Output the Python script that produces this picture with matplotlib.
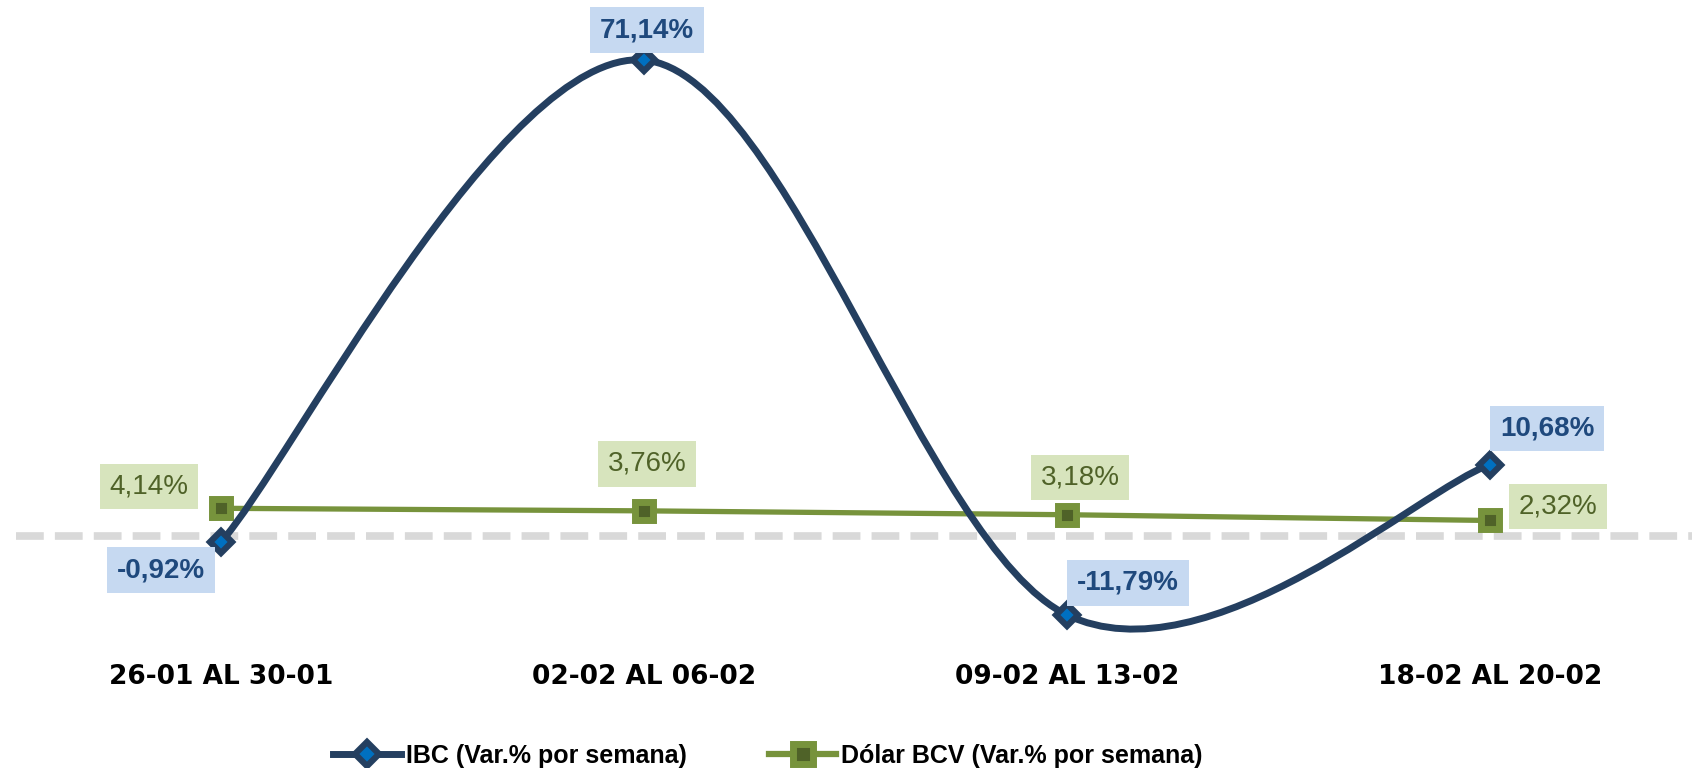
import numpy as np
import matplotlib
matplotlib.use('Agg')
import matplotlib.pyplot as plt
from matplotlib.path import Path
from matplotlib.patches import PathPatch
from matplotlib.lines import Line2D

plt.rcParams['font.family'] = ['Liberation Sans', 'DejaVu Sans']
plt.rcParams['lines.scale_dashes'] = False

# Datos
semanas = ['26-01 AL 30-01', '02-02 AL 06-02', '09-02 AL 13-02', '18-02 AL 20-02']
ibc = [-0.92, 71.14, -11.79, 10.68]
dolar = [4.14, 3.76, 3.18, 2.32]
ibc_labels = ['-0,92%', '71,14%', '-11,79%', '10,68%']
dolar_labels = ['4,14%', '3,76%', '3,18%', '2,32%']

c_ibc = '#243F60'
c_ibc_in = '#0070C0'
c_dol = '#77933C'
c_dol_in = '#4F6228'
c_txt_ibc = '#1F497D'
c_box_ibc = '#C6D9F1'
c_txt_dol = '#4F6228'
c_box_dol = '#D7E4BD'

W, H = 1692, 768
fig = plt.figure(figsize=(W / 100, H / 100), dpi=100)
ax = fig.add_axes([0, 128 / H, 1, 640 / H])

zero_px = 536
scale = 6.69
ax.set_xlim(-221 / 423, 3 + 202 / 423)
ax.set_ylim((zero_px - 640) / scale, zero_px / scale)
ax.axis('off')
ax.set_autoscale_on(False)

x = np.arange(len(semanas))

# linea de referencia en cero
ax.plot([-0.485, 3.478], [0, 0], color='#D9D9D9', lw=5.5,
        dashes=(20, 8), zorder=1, solid_capstyle='butt')


# curva suavizada (tipo Excel)
def smooth_path(xs, ys):
    pts = np.column_stack([xs, ys]).astype(float)
    n = len(pts)
    verts = [pts[0]]
    codes = [Path.MOVETO]
    for i in range(n - 1):
        p_prev = pts[max(i - 1, 0)]
        p0 = pts[i]
        p1 = pts[i + 1]
        p_next = pts[min(i + 2, n - 1)]
        c1 = p0 + (p1 - p_prev) / 6
        c2 = p1 - (p_next - p0) / 6
        verts += [c1, c2, p1]
        codes += [Path.CURVE4] * 3
    return Path(verts, codes)


ax.add_patch(PathPatch(smooth_path(x, ibc), facecolor='none', edgecolor=c_ibc,
                       lw=5, zorder=3, capstyle='round'))
ax.plot(x, ibc, ls='none', marker='D', ms=11, mfc=c_ibc_in, mec=c_ibc,
        mew=4.5, zorder=4)

ax.plot(x, dolar, color=c_dol, lw=3.8, zorder=2, marker='s', ms=13,
        mfc=c_dol_in, mec=c_dol, mew=5)

# etiquetas
ibc_off = [(-60, -28), (3, 30), (61, 32), (57, 36)]
dol_off = [(-72, 22), (3, 47), (13, 37), (68, 14)]
for xi, v, t, o in zip(x, ibc, ibc_labels, ibc_off):
    ax.annotate(t, (xi, v), xytext=o, textcoords='offset pixels',
                ha='center', va='center', fontsize=20, fontweight='bold',
                color=c_txt_ibc, zorder=6,
                bbox=dict(boxstyle='square,pad=0.35', fc=c_box_ibc, ec='none'))
for xi, v, t, o in zip(x, dolar, dolar_labels, dol_off):
    ax.annotate(t, (xi, v), xytext=o, textcoords='offset pixels',
                ha='center', va='center', fontsize=20,
                color=c_txt_dol, zorder=6,
                bbox=dict(boxstyle='square,pad=0.35', fc=c_box_dol, ec='none'))

# etiquetas del eje x
for xi, s in zip(x, semanas):
    ax.annotate(s, (xi, ax.get_ylim()[0]), xytext=(0, -37),
                textcoords='offset pixels', ha='center', va='center',
                fontsize=19, fontweight='bold', color='black',
                family='DejaVu Sans', annotation_clip=False)

# leyenda
handles = [
    Line2D([0], [0], color=c_ibc, lw=5, marker='D', ms=12, mfc=c_ibc_in,
           mec=c_ibc, mew=4.5),
    Line2D([0], [0], color=c_dol, lw=4.5, marker='s', ms=14, mfc=c_dol_in,
           mec=c_dol, mew=5),
]
fig.legend(handles, ['IBC (Var.% por semana)', 'Dólar BCV (Var.% por semana)'],
           loc='center', bbox_to_anchor=(768 / W, 12 / H), ncols=2,
           frameon=False, prop={'size': 18, 'weight': 'bold'},
           handlelength=2.7, handletextpad=0.2, columnspacing=3.3)

fig.savefig('out.png', dpi=100)
